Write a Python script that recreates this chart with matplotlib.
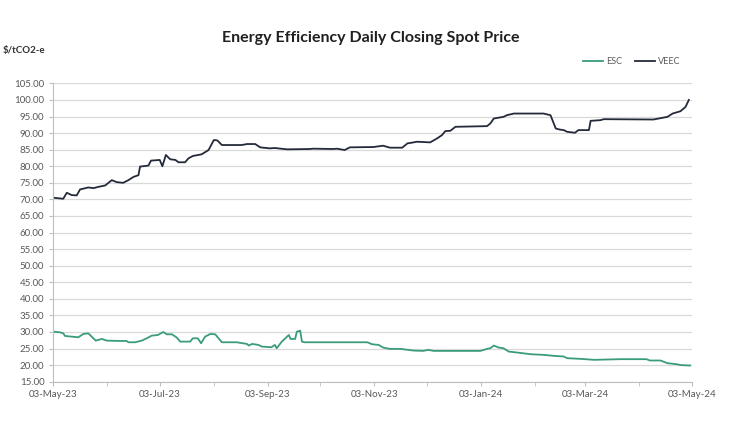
import matplotlib
matplotlib.use("Agg")
import matplotlib.pyplot as plt
import matplotlib.dates as mdates
import numpy as np
import pandas as pd

start = pd.Timestamp("2023-05-03")

# days since 03-May-23
veec_days = [0, 5.7, 7.7, 10.5, 13.4, 15.3, 20, 23, 26, 29.7, 33.5, 36.4, 40, 43, 46,
             48.8, 49.7, 54.5, 56, 61, 62.5, 64.5, 67, 70, 71.7, 75.5, 77.5, 80, 85,
             89, 92, 94, 96.6, 108, 111, 115.7, 118.6, 124, 127, 134, 147, 149, 160.6,
             162.6, 167, 170, 183.6, 189, 193, 200, 203, 206.5, 208.5, 216, 220, 222.8,
             224.7, 227.6, 230.5, 248.6, 250.5, 252.5, 258, 260, 264, 281, 285, 288,
             290, 292.6, 294.5, 299, 301, 307, 308, 313.6, 315.5, 344, 352, 355,
             359.5, 362.4, 364.3]
veec = [70.5, 70.2, 72.0, 71.3, 71.2, 73.0, 73.6, 73.4, 73.8, 74.2, 75.8, 75.2, 75.0,
        75.8, 76.8, 77.3, 79.9, 80.2, 81.7, 81.9, 80.0, 83.4, 82.1, 81.9, 81.2, 81.2,
        82.4, 83.1, 83.6, 84.9, 87.9, 87.8, 86.4, 86.4, 86.7, 86.7, 85.7, 85.4, 85.5,
        85.1, 85.2, 85.3, 85.2, 85.3, 84.9, 85.7, 85.8, 86.2, 85.6, 85.6, 86.9, 87.2,
        87.4, 87.2, 88.4, 89.4, 90.6, 90.7, 91.9, 92.1, 92.9, 94.4, 94.9, 95.4, 95.9,
        95.9, 95.4, 91.4, 91.1, 90.9, 90.4, 90.1, 90.9, 90.9, 93.7, 93.9, 94.2, 94.1,
        94.9, 95.9, 96.6, 97.9, 100.0]

esc_days = [0, 3.8, 5.7, 6.7, 14.3, 17.2, 20, 22, 24.3, 27.8, 30.6, 37.3, 42, 43,
            46.9, 50.7, 53.6, 56.4, 60, 63, 65, 68, 70.8, 72.7, 78.4, 80, 82.8, 84.7,
            87, 90, 92.8, 94.7, 96.6, 105, 111, 112, 114, 117.6, 119.5, 125, 127, 128,
            131, 134, 135, 136, 138.6, 139.6, 141.5, 142.5, 144, 180, 182.7, 186.5,
            189, 193, 199, 206.5, 212, 215, 218, 244.8, 248.6, 250.5, 252.5, 255.3,
            258, 261, 266, 273.5, 281, 287, 292.6, 294.5, 302, 310, 325, 340, 342,
            348, 352, 357, 360, 365]
esc = [30.1, 29.9, 29.6, 28.8, 28.4, 29.4, 29.6, 28.6, 27.4, 27.9, 27.4, 27.3, 27.3,
       26.9, 26.9, 27.4, 28.1, 28.9, 29.1, 30.0, 29.3, 29.3, 28.3, 27.1, 27.1, 28.1,
       28.1, 26.6, 28.6, 29.4, 29.3, 28.1, 26.9, 26.9, 26.4, 25.9, 26.4, 26.1, 25.6,
       25.4, 26.1, 25.1, 27.1, 28.6, 29.1, 27.9, 27.9, 30.1, 30.4, 27.1, 26.9, 26.9,
       26.3, 26.1, 25.3, 24.9, 24.9, 24.4, 24.3, 24.6, 24.3, 24.3, 24.9, 25.1, 25.9,
       25.3, 25.1, 24.1, 23.8, 23.3, 23.1, 22.8, 22.6, 22.1, 21.9, 21.6, 21.8, 21.8,
       21.4, 21.4, 20.6, 20.3, 20.0, 19.9]

veec_dates = start + pd.to_timedelta(veec_days, unit="D")
esc_dates = start + pd.to_timedelta(esc_days, unit="D")

plt.rcParams['font.family'] = ['Lato', 'DejaVu Sans']

fig = plt.figure(figsize=(7.45, 4.32), dpi=100)
ax = fig.add_axes([0.0716, 0.1164, 0.857, 0.6906])

ax.plot(esc_dates, esc, color='#3a9c7c', lw=1.3, label='ESC')
ax.plot(veec_dates, veec, color='#242a3a', lw=1.3, label='VEEC')

ax.set_ylim(15, 105)
ax.set_yticks(np.arange(15, 106, 5))
ax.set_yticklabels([f"{v:.2f}" for v in np.arange(15, 106, 5)])
ax.set_xlim(start, pd.Timestamp("2024-05-03"))
ax.xaxis.set_major_locator(mdates.MonthLocator(bymonth=[1, 3, 5, 7, 9, 11], bymonthday=3))
ax.xaxis.set_minor_locator(mdates.MonthLocator(bymonthday=3))
ax.xaxis.set_major_formatter(mdates.DateFormatter('%d-%b-%y'))

ax.grid(axis='y', color='#d9d9d9', lw=0.9)
ax.set_axisbelow(True)
for s in ['top', 'right']:
    ax.spines[s].set_visible(False)
for s in ['left', 'bottom']:
    ax.spines[s].set_color('#bfbfbf')
ax.tick_params(axis='both', which='both', colors='#bfbfbf', labelcolor='#595959',
               labelsize=7, length=3)
ax.tick_params(axis='x', pad=3)

fig.text(0.497, 0.912, 'Energy Efficiency Daily Closing Spot Price', ha='center',
         va='center', fontsize=11.5, fontweight='bold', color='#1f1f1f')
fig.text(0.004, 0.884, '$/tCO2-e', ha='left', va='center', fontsize=7,
         fontweight='bold', color='#333333')

ax.legend(loc='lower right', bbox_to_anchor=(0.995, 1.03), ncol=2, frameon=False,
          fontsize=6.5, handlelength=2.2, handletextpad=0.3, columnspacing=1.5,
          labelcolor='#595959')

fig.savefig('out.png', dpi=100)
